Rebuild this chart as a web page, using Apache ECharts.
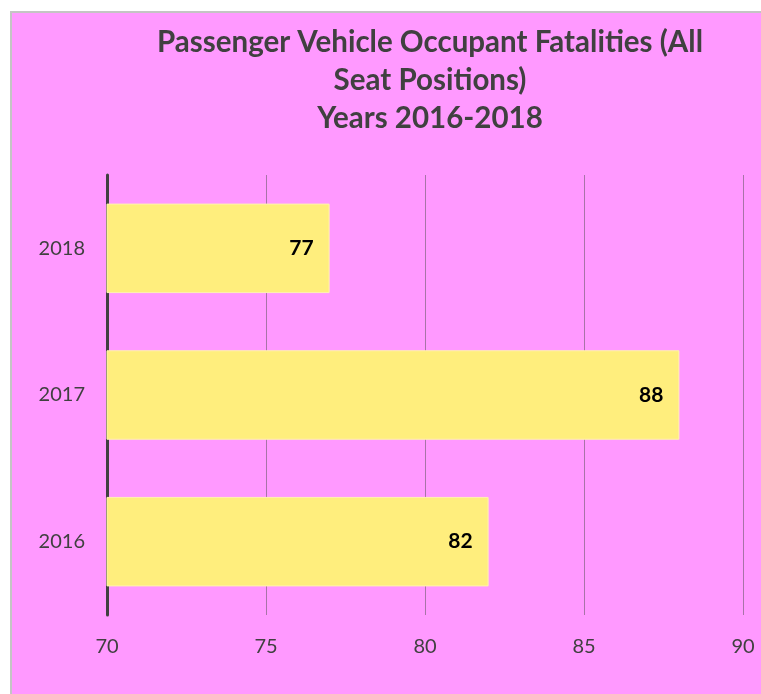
<!DOCTYPE html>
<html>
<head>
<meta charset="utf-8">
<script src="https://cdn.jsdelivr.net/npm/echarts@6/dist/echarts.min.js"></script>
<style>
  html, body { margin: 0; padding: 0; background: #ffffff; }
  #chart {
    position: absolute; left: 10px; top: 11px;
    width: 749px; height: 681px;
    border-left: 2px solid #c4c4c4; border-top: 2px solid #c4c4c4;
    background: #ff99ff;
  }
</style>
</head>
<body>
<div id="chart"></div>
<script>
const years = ['2016', '2017', '2018']
const fatalities = [82, 88, 77]
const xTicks = { min: 70, max: 90, step: 5 }

const chart = echarts.init(document.getElementById('chart'), null, { renderer: 'canvas' })

chart.setOption({
  backgroundColor: '#ff99ff',
  animation: false,
  title: {
    text: 'Passenger Vehicle Occupant Fatalities (All\nSeat Positions)\nYears 2016-2018',
    left: 418,
    top: 10,
    padding: 0,
    textAlign: 'center',
    textStyle: {
      fontFamily: 'Lato',
      fontWeight: 'bold',
      fontSize: 29.5,
      lineHeight: 38,
      color: '#404040',
    },
  },
  grid: { left: 95, right: 18, top: 162, bottom: 79, containLabel: false },
  xAxis: {
    type: 'value',
    min: xTicks.min,
    max: xTicks.max,
    interval: xTicks.step,
    axisLine: { show: false },
    axisTick: { show: false },
    axisLabel: { fontFamily: 'Lato', fontSize: 20, color: '#404040', margin: 22 },
    splitLine: { lineStyle: { color: 'rgba(80,80,80,0.5)', width: 1 } },
  },
  yAxis: {
    type: 'category',
    data: years,
    axisLine: { show: true, lineStyle: { color: '#404040', width: 3 } },
    axisTick: { show: false },
    axisLabel: { fontFamily: 'Lato', fontSize: 20, color: '#404040', margin: 22 },
    splitLine: { show: false },
  },
  series: [{
    type: 'bar',
    data: fatalities,
    barCategoryGap: '39%',
    itemStyle: { color: '#ffee7d', borderColor: '#fff3b0', borderWidth: 1 },
    label: {
      show: true,
      position: 'insideRight',
      distance: 16,
      fontFamily: 'Lato',
      fontWeight: 'bold',
      fontSize: 21,
      color: '#000000',
    },
  }],
})
</script>
</body>
</html>
